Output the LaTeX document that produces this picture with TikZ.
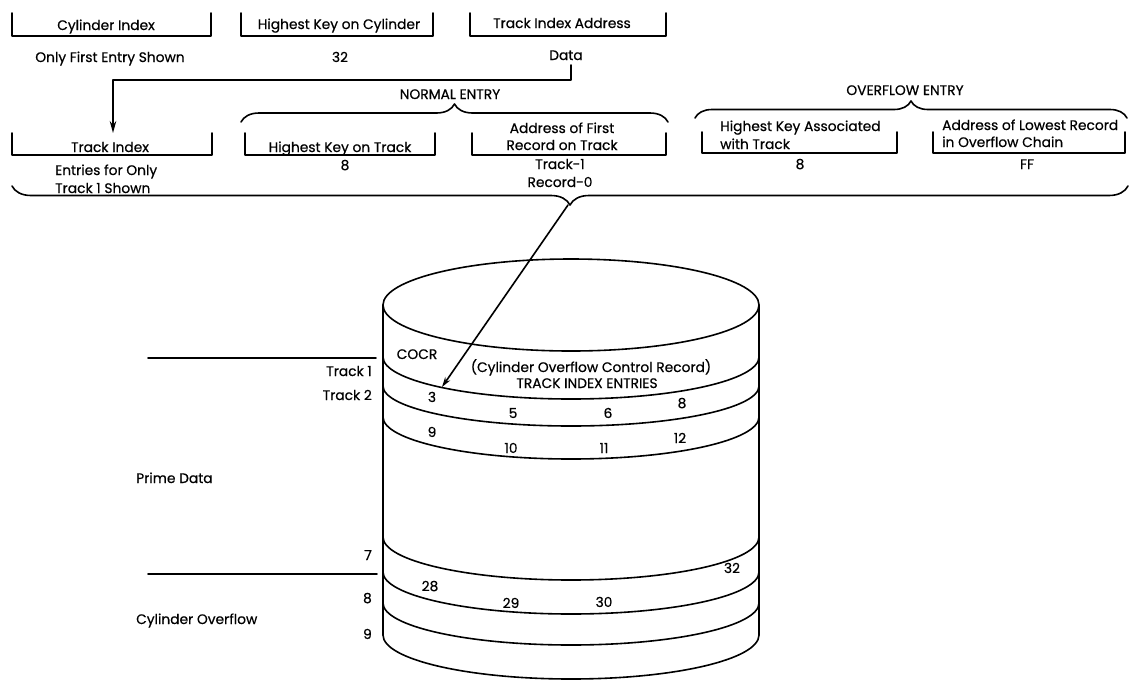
\documentclass[tikz,border=0pt]{standalone}
\usepackage{fontspec}
\setmainfont{Poppins}[FakeBold=0.6]
\usetikzlibrary{arrows.meta,decorations.pathreplacing}
\begin{document}
\begin{tikzpicture}[x=1pt,y=-1pt,
  lw/.style={line width=1.6pt, line cap=round, line join=round},
  txt/.style={font=\fontsize{13.8}{16}\selectfont, inner sep=0pt, anchor=base},
  ltxt/.style={txt, anchor=base west},
  rtxt/.style={txt, anchor=base east},
  arr/.style={lw, -{Stealth[length=12pt,width=6.5pt]}},
  brc/.style={lw, decorate, decoration={brace, amplitude=#1}}]
\useasboundingbox (0,0) rectangle (1133,681);

% ---- row 1 brackets
\draw[lw] (12,13) -- (12,36) -- (211,36) -- (211,13);
\draw[lw] (241,13) -- (241,36) -- (433,36) -- (433,13);
\draw[lw] (470,13) -- (470,36) -- (666,36) -- (666,13);
\node[txt] (ci) at (106,30) {Cylinder Index};
\node[txt] (hkc) at (339,29) {Highest Key on Cylinder};
\node[txt] (tia) at (562,28) {Track Index Address};
\node[txt] (ofes) at (110,62) {Only First Entry Shown};
\node[txt] (k32) at (340,62) {32};
\node[txt] (data) at (566,60) {Data};

% ---- row 2 brackets
\draw[lw] (12,133) -- (12,155) -- (212,155) -- (212,133);
\draw[lw] (245,133) -- (245,155) -- (435,155) -- (435,133);
\draw[lw] (472,133) -- (472,155) -- (666,155) -- (666,133);
\draw[lw] (702,132) -- (702,153) -- (897,153) -- (897,132);
\draw[lw] (933,132) -- (933,153) -- (1125,153) -- (1125,132);
\node[txt] (tix) at (110,152) {Track Index};
\node[txt] (hkt) at (340,152) {Highest Key on Track};
\node[txt] (af1) at (562,133) {Address of First};
\node[txt] (af2) at (562,150) {Record on Track};
\node[ltxt] (hka1) at (720,131) {Highest Key Associated};
\node[ltxt] (hka2) at (720,149) {with Track};
\node[ltxt] (alr1) at (942,130) {Address of Lowest Record};
\node[ltxt] (alr2) at (942,147) {in Overflow Chain};
\node[ltxt] (ent1) at (55,175) {Entries for Only};
\node[ltxt] (ent2) at (55,193) {Track 1 Shown};
\node[txt] (v8a) at (345,170) {8};
\node[txt] (tr1) at (560,169) {Track-1};
\node[txt] (rec0) at (560,187) {Record-0};
\node[txt] (v8b) at (800,169) {8};
\node[txt] (ff) at (1027,169) {FF};

% ---- braces
\node[txt] (normal) at (450,99) {NORMAL ENTRY};
\node[txt] (overflow) at (905,95) {OVERFLOW ENTRY};
\draw[brc=18pt] (241,122) -- (668,122);
\draw[brc=17pt] (695,118) -- (1127,118);
\draw[brc=19pt] (1128,186) -- (12,186);

% ---- connector Data -> Track Index
\coordinate (dstart) at (571,65);
\coordinate (tiend) at (113,133);
\draw[arr] (dstart) -- (571,80) -| (tiend);

% ---- cylinder
\draw[lw] (571,305) ellipse [x radius=188pt, y radius=46pt];
\draw[lw] (383,305) -- (383,635);
\draw[lw] (759,305) -- (759,635);
\foreach \c/\r in {357/42,386/40,417/42,537/43,572/42,603/42,635/44}{
  \draw[lw] (383,\c) arc[start angle=180, end angle=360, x radius=188pt, y radius=\r pt];
}

% ---- arrow from brace to track index entry
\coordinate (bracetip) at (568,205);
\coordinate (tientry) at (442,387);
\draw[lw, -{Stealth[length=10pt,width=6pt]}] (bracetip) -- (tientry);

% ---- cylinder texts
\node[txt] (cocr) at (417,359) {COCR};
\node[txt] (cocrl) at (591,372) {(Cylinder Overflow Control Record)};
\node[txt] (tie) at (587,388) {TRACK INDEX ENTRIES};
\node[txt] (n3) at (432,402) {3};
\node[txt] (n5) at (513,418) {5};
\node[txt] (n6) at (608,418) {6};
\node[txt] (n8) at (682,408) {8};
\node[txt] (n9) at (432,437) {9};
\node[txt] (n10) at (511,453) {10};
\node[txt] (n11) at (604,453) {11};
\node[txt] (n12) at (680,443) {12};
\node[txt] (n28) at (430,591) {28};
\node[txt] (n29) at (511,608) {29};
\node[txt] (n30) at (604,607) {30};
\node[txt] (n32) at (732,573) {32};

% ---- left side labels
\coordinate (l1a) at (148,358);
\coordinate (l1b) at (376,358);
\coordinate (l2a) at (148,574);
\coordinate (l2b) at (377,574);
\draw[lw] (l1a) -- (l1b);
\draw[lw] (l2a) -- (l2b);
\node[rtxt] (t1) at (372,376) {Track 1};
\node[rtxt] (t2) at (372,400) {Track 2};
\node[ltxt] (prime) at (136,483) {Prime Data};
\node[rtxt] (s7) at (372,560) {7};
\node[rtxt] (s8) at (372,603) {8};
\node[rtxt] (s9) at (372,639) {9};
\node[ltxt] (cyo) at (136,624) {Cylinder Overflow};
\end{tikzpicture}
\end{document}
